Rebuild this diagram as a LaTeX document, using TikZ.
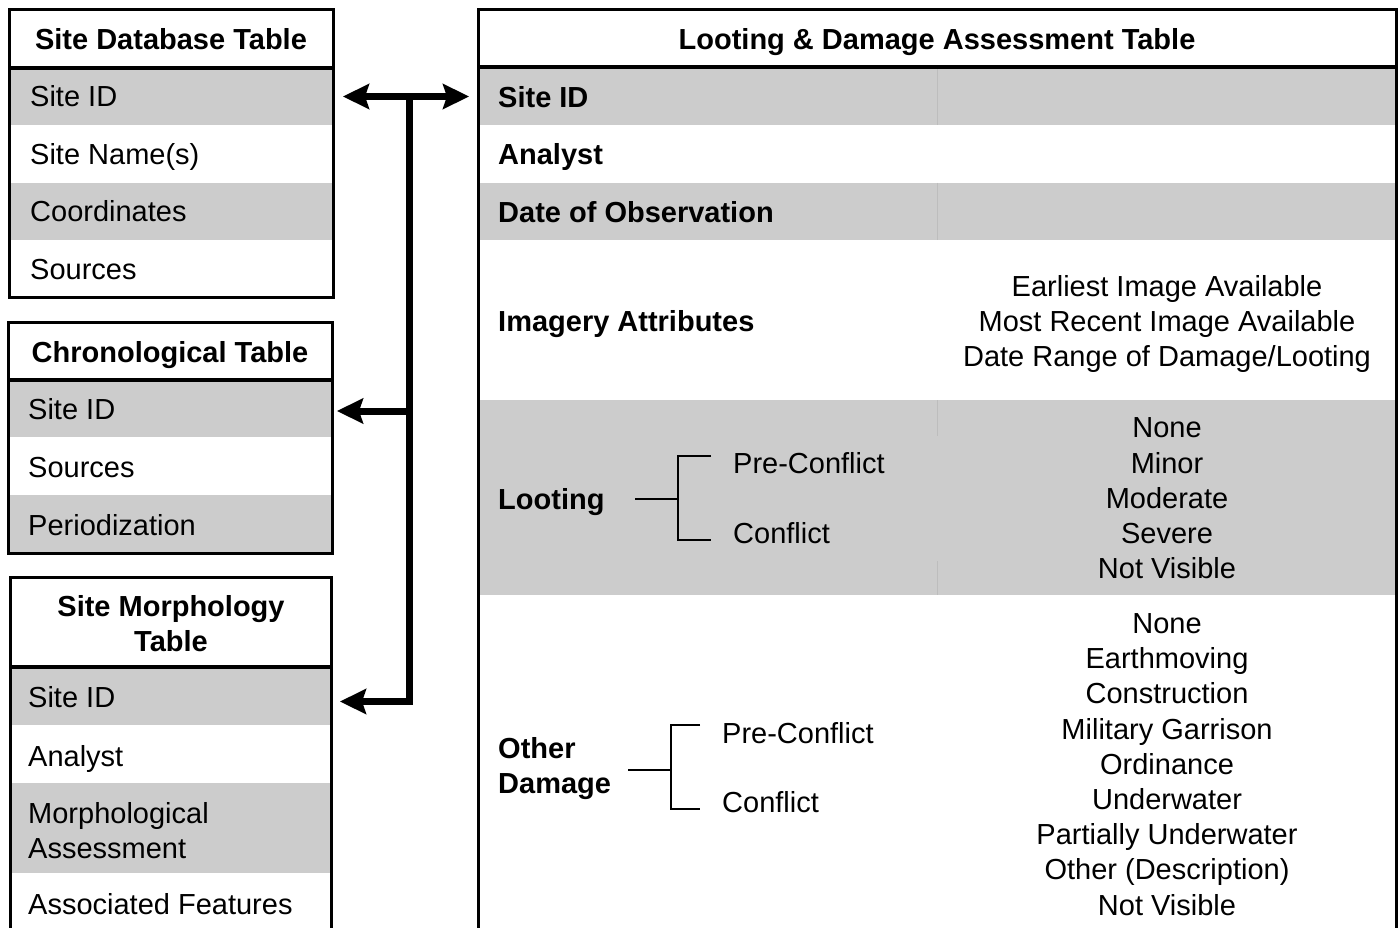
\documentclass[tikz,border=0pt]{standalone}
\usepackage{fontspec}
\setmainfont{Liberation Sans}
\usetikzlibrary{arrows.meta}
\definecolor{rowgray}{HTML}{CCCCCC}
\definecolor{divgray}{HTML}{BDBDBD}
\newcommand\fs{\fontsize{29}{35.2}\selectfont}
\begin{document}
\begin{tikzpicture}[x=1pt,y=-1pt,
  band/.style={anchor=north west, inner sep=0pt, outer sep=0pt, fill=rowgray, minimum width=#1},
  blank/.style={anchor=north west, inner sep=0pt, outer sep=0pt, minimum width=#1},
  txt/.style={font=\fs, inner sep=0pt, text height=21pt, text depth=0pt, anchor=west},
  btxt/.style={font=\fs\bfseries, inner sep=0pt, text height=21pt, text depth=0pt, anchor=west},
  multi/.style={font=\fs, inner sep=0pt, align=center},
  bmulti/.style={font=\fs\bfseries, inner sep=0pt, align=#1},
  frame/.style={draw=black, line width=3pt},
  hline/.style={draw=black, line width=3.5pt},
  divline/.style={draw=divgray, line width=1pt},
  link/.style={line width=7pt, line join=miter},
  brace/.style={line width=2.8pt, line join=miter}
]
\tikzset{BigTip/.tip={Stealth[length=26pt,width=25pt,inset=4pt]}}
\clip (0,0) rectangle (1399,928);
\fill[white] (0,0) rectangle (1399,928);

% ---------- Site Database Table ----------
\node[band=324pt, minimum height=57pt] (sdb-id) at (9,68) {};
\node[blank=324pt, minimum height=58pt] (sdb-nm) at (9,125) {};
\node[band=324pt, minimum height=57pt] (sdb-co) at (9,183) {};
\node[blank=324pt, minimum height=57pt] (sdb-so) at (9,240) {};
\node[btxt, anchor=center] (sdb-h) at (171,39) {Site Database Table};
\node[txt] (sdb-id-t) at (30,96.5) {Site ID};
\node[txt] (sdb-nm-t) at (30,154) {Site Name(s)};
\node[txt] (sdb-co-t) at (30,211.5) {Coordinates};
\node[txt] (sdb-so-t) at (30,268.5) {Sources};
\draw[frame] (9,10) rectangle (333,297);
\draw[hline] (9,68) -- (333,68);

% ---------- Chronological Table ----------
\node[band=324pt, minimum height=57pt] (chr-id) at (8,380) {};
\node[blank=324pt, minimum height=58pt] (chr-so) at (8,437) {};
\node[band=324pt, minimum height=58pt] (chr-pe) at (8,495) {};
\node[btxt, anchor=center] (chr-h) at (170,352) {Chronological Table};
\node[txt] (chr-id-t) at (28,409) {Site ID};
\node[txt] (chr-so-t) at (28,467) {Sources};
\node[txt] (chr-pe-t) at (28,525) {Periodization};
\draw[frame] (8,322) rectangle (332,553);
\draw[hline] (8,380) -- (332,380);

% ---------- Site Morphology Table ----------
\node[band=321pt, minimum height=58pt] (mor-id) at (10,667) {};
\node[blank=321pt, minimum height=58pt] (mor-an) at (10,725) {};
\node[band=321pt, minimum height=90pt] (mor-ma) at (10,783) {};
\node[blank=321pt, minimum height=67pt] (mor-af) at (10,873) {};
\node[bmulti=center] (mor-h) at (171,623.5) {Site Morphology\\Table};
\node[txt] (mor-id-t) at (28,697) {Site ID};
\node[txt] (mor-an-t) at (28,756) {Analyst};
\node[font=\fs, inner sep=0pt, align=left, anchor=west] (mor-ma-t) at (28,830.5) {Morphological\\Assessment};
\node[txt] (mor-af-t) at (28,904) {Associated Features};
\draw[frame] (10,577) rectangle (331,960);
\draw[hline] (10,667) -- (331,667);

% ---------- Looting & Damage Assessment Table ----------
\node[band=918pt, minimum height=58pt] (lda-id) at (478,67) {};
\node[blank=918pt, minimum height=58pt] (lda-an) at (478,125) {};
\node[band=918pt, minimum height=57pt] (lda-dt) at (478,183) {};
\node[blank=918pt, minimum height=160pt] (lda-im) at (478,240) {};
\node[band=918pt, minimum height=195pt] (lda-lo) at (478,400) {};
\node[blank=918pt, minimum height=345pt] (lda-od) at (478,595) {};
\draw[divline] (937,67) -- (937,125);
\draw[divline] (937,183) -- (937,240);
\draw[divline] (937,400) -- (937,436);
\draw[divline] (937,561) -- (937,595);

\node[btxt, anchor=center] (lda-h) at (937,39) {Looting \& Damage Assessment Table};
\node[btxt] (lda-id-t) at (498,97) {Site ID};
\node[btxt] (lda-an-t) at (498,154) {Analyst};
\node[btxt] (lda-dt-t) at (498,212) {Date of Observation};
\node[btxt] (lda-im-t) at (498,321) {Imagery Attributes};
\node[btxt] (lda-lo-t) at (498,499) {Looting};
\node[bmulti=left, anchor=west] (lda-od-t) at (498,768.5) {Other\\Damage};

\node[multi] (im-list) at (1167,324) {Earliest Image Available\\Most Recent Image Available\\Date Range of Damage/Looting};
\node[multi] (lo-list) at (1167,498.5) {None\\Minor\\Moderate\\Severe\\Not Visible};
\node[multi] (od-list) at (1167,764.5) {None\\Earthmoving\\Construction\\Military Garrison\\Ordinance\\Underwater\\Partially Underwater\\Other (Description)\\Not Visible};

% Looting bracket
\node[txt] (lo-pre) at (733,463) {Pre-Conflict};
\node[txt] (lo-con) at (733,533) {Conflict};
\coordinate (lo-s) at (635,499);
\coordinate (lo-j) at (678,499);
\coordinate (lo-a) at (711,456);
\coordinate (lo-c) at (711,540);
\draw[brace] (lo-a) -| (lo-j) |- (lo-c);
\draw[brace] (lo-s) -- (lo-j);

% Other damage bracket
\node[txt] (od-pre) at (722,733) {Pre-Conflict};
\node[txt] (od-con) at (722,802) {Conflict};
\coordinate (od-s) at (628,770);
\coordinate (od-j) at (671,770);
\coordinate (od-a) at (700,725);
\coordinate (od-c) at (700,809);
\draw[brace] (od-a) -| (od-j) |- (od-c);
\draw[brace] (od-s) -- (od-j);

\draw[frame] (478,10) rectangle (1396,960);
\draw[hline] (478,67) -- (1396,67);

% ---------- connectors ----------
\coordinate (tt) at ([xshift=76pt]sdb-id.east);
\coordinate (mm) at ([xshift=77pt,yshift=-2.5pt]chr-id.east);
\draw[link, BigTip-BigTip] ([xshift=10pt]sdb-id.east) -- ([xshift=-9pt]lda-id.west |- sdb-id.east);
\draw[link, -BigTip] (tt) |- ([xshift=9pt,yshift=-5.5pt]mor-id.east);
\draw[link, -BigTip] (mm) -- ([xshift=5pt,yshift=-2.5pt]chr-id.east);
\end{tikzpicture}
\end{document}
